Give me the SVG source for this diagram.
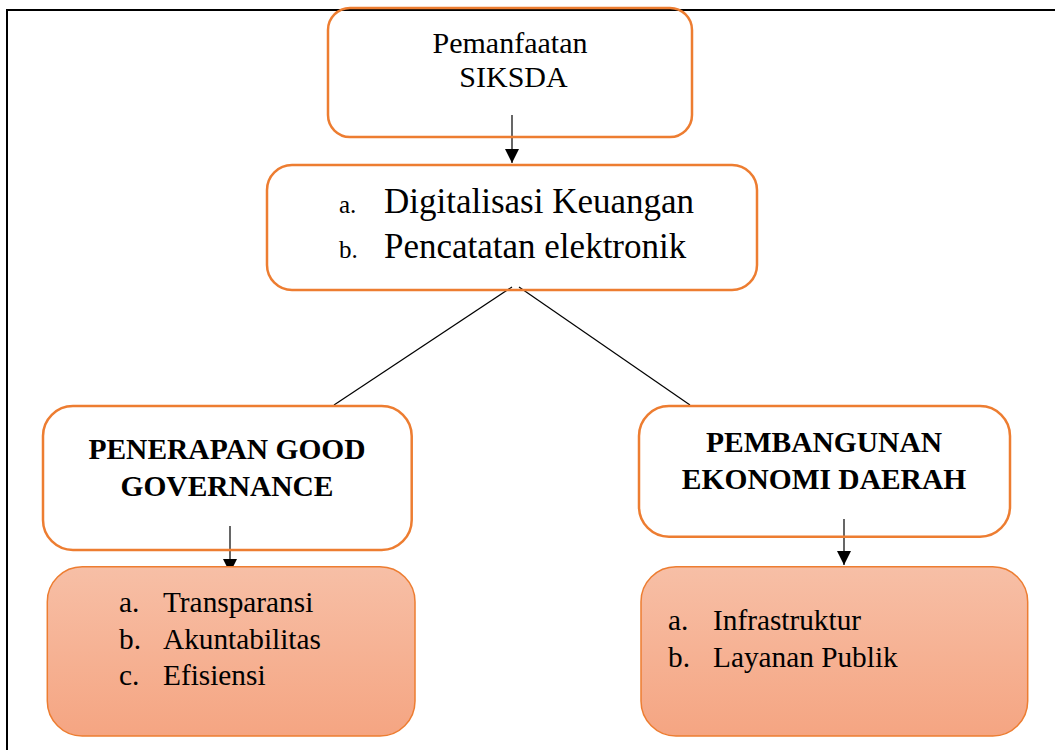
<svg xmlns="http://www.w3.org/2000/svg" width="1055" height="750" viewBox="0 0 1055 750">
<style>
.frame{fill:none;stroke:#000;stroke-width:2}
.box{fill:none;stroke:#ED7D31;stroke-width:2.5}
.fbox{fill:url(#g);stroke:#ED7D31;stroke-width:1.5}
.con{fill:none;stroke:#000;stroke-width:1.2}
.t30{font-size:30px}
.t35{font-size:35px}
.t25{font-size:25px}
.b{font-size:29.5px;font-weight:bold;text-anchor:middle}
.l{font-size:29.3px}
</style>
<defs>
<linearGradient id="g" x1="0" y1="0" x2="0" y2="1">
<stop offset="0" stop-color="#F7BFA6"/>
<stop offset="1" stop-color="#F5A582"/>
</linearGradient>
<marker id="ah" markerUnits="userSpaceOnUse" markerWidth="14" markerHeight="14" viewBox="0 0 14 14" refX="14" refY="7" orient="auto">
<path d="M0,0 L14,7 L0,14 Z" fill="#000"/>
</marker>
</defs>
<rect width="1055" height="750" fill="#fff"/>
<path class="frame" d="M7,750 V10 H1055"/>
<g id="connectors">
<line class="con" x1="512" y1="115" x2="512" y2="163" marker-end="url(#ah)"/>
<line class="con" x1="512" y1="287" x2="334" y2="405"/>
<line class="con" x1="519" y1="287" x2="690" y2="405"/>
<line class="con" x1="230" y1="526" x2="230" y2="573" marker-end="url(#ah)"/>
<line class="con" x1="844" y1="519" x2="844" y2="565" marker-end="url(#ah)"/>
</g>
<g font-family="Liberation Serif, Times New Roman, serif" fill="#000">
<g id="siksda">
<rect class="box" x="328" y="8" width="364" height="129" rx="22"/>
<text class="t30" x="510" y="53" text-anchor="middle">Pemanfaatan</text>
<text class="t30" x="513.5" y="87" text-anchor="middle">SIKSDA</text>
</g>
<g id="digital">
<rect class="box" x="267" y="165" width="490" height="125" rx="25"/>
<text class="t25" x="339" y="213">a.</text>
<text class="t35" x="384" y="213">Digitalisasi Keuangan</text>
<text class="t25" x="339" y="257.7">b.</text>
<text class="t35" x="384" y="257.7">Pencatatan elektronik</text>
</g>
<g id="governance">
<rect class="box" x="43" y="406" width="368.7" height="144" rx="30"/>
<text class="b" x="227" y="459">PENERAPAN GOOD</text>
<text class="b" x="227" y="496">GOVERNANCE</text>
</g>
<g id="governance-items">
<rect class="fbox" x="47.3" y="566.7" width="367.7" height="169.3" rx="35"/>
<text class="l" x="119" y="612">a.</text>
<text class="l" x="163" y="612">Transparansi</text>
<text class="l" x="119" y="648.5">b.</text>
<text class="l" x="163" y="648.5">Akuntabilitas</text>
<text class="l" x="119" y="685">c.</text>
<text class="l" x="163" y="685">Efisiensi</text>
</g>
<g id="ekonomi">
<rect class="box" x="639" y="406" width="371" height="130.7" rx="30"/>
<text class="b" x="824" y="452">PEMBANGUNAN</text>
<text class="b" x="824" y="489.3">EKONOMI DAERAH</text>
</g>
<g id="ekonomi-items">
<rect class="fbox" x="641" y="566.7" width="386.7" height="169.3" rx="35"/>
<text class="l" x="668" y="630">a.</text>
<text class="l" x="713" y="630">Infrastruktur</text>
<text class="l" x="668" y="667.3">b.</text>
<text class="l" x="713" y="667.3">Layanan Publik</text>
</g>
</g>
</svg>
